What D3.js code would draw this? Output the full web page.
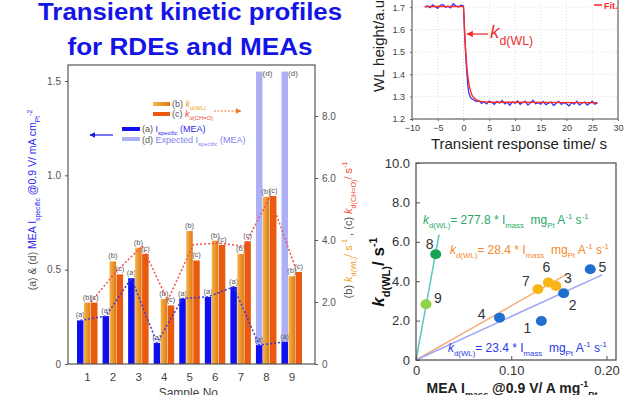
<!DOCTYPE html>
<html>
<head>
<meta charset="utf-8">
<script src="https://cdn.jsdelivr.net/npm/d3@7"></script>
<style>
  body { margin: 0; background: #fff; }
  svg { display: block; }
  text { font-family: "Liberation Sans", Arial, sans-serif; white-space: pre; }
</style>
</head>
<body>
<div id="viz"></div>
<script>
// ---- left chart: bars per sample
var samples = [1, 2, 3, 4, 5, 6, 7, 8, 9];
var iSpecific = [0.231, 0.254, 0.455, 0.112, 0.347, 0.356, 0.409, 0.100, 0.117];
var expectedSamples = [8, 9];
var iExpected = [1.55, 1.55];
var kWL = [1.98, 3.31, 3.75, 2.10, 4.29, 3.98, 3.55, 5.39, 2.83];
var kCHO = [1.98, 2.89, 3.55, 1.89, 3.34, 3.84, 3.96, 5.42, 2.97];
var kTrend = [2.0, 3.0, 3.8, 2.05, 3.85, 3.9, 3.8, 5.4, 3.1];
var leftTicks = [0, 0.5, 1.0, 1.5];
var rightTicks = [0, 2, 4, 6, 8];

// ---- top right: transient response
var tRaw = [-7.5, -7, -6.5, -6, -5.5, -5, -4.5, -4, -3.5, -3, -2.5, -2, -1.5, -1, -0.5, 0,
  0.2, 0.4, 0.6, 0.8, 1.0, 1.3, 1.6,
  2, 2.5, 3, 3.5, 4, 4.5, 5, 5.5, 6, 6.5, 7, 7.5, 8, 8.5, 9, 9.5, 10, 10.5, 11, 11.5,
  12, 12.5, 13, 13.5, 14, 14.5, 15, 15.5, 16, 16.5, 17, 17.5, 18, 18.5, 19, 19.5,
  20, 20.5, 21, 21.5, 22, 22.5, 23, 23.5, 24, 24.5, 25, 25.5, 26];
var wlRaw = [1.700, 1.705, 1.698, 1.710, 1.702, 1.695, 1.708, 1.712, 1.700, 1.704, 1.697, 1.715, 1.706, 1.701, 1.709, 1.705,
  1.60, 1.50, 1.42, 1.36, 1.32, 1.30, 1.29,
  1.285, 1.278, 1.282, 1.270, 1.276, 1.268, 1.280, 1.274, 1.265, 1.279, 1.271, 1.283, 1.268, 1.275, 1.262, 1.277,
  1.270, 1.281, 1.266, 1.274, 1.279, 1.262, 1.272, 1.284, 1.268, 1.273, 1.266, 1.278, 1.264, 1.271, 1.276, 1.260,
  1.270, 1.279, 1.265, 1.273, 1.268, 1.258, 1.274, 1.266, 1.279, 1.263, 1.271, 1.276, 1.262, 1.270, 1.280, 1.266, 1.272];
var tFit = [-7.5, 0, 0.1, 0.2, 0.3, 0.4, 0.5, 0.7, 0.9, 1.2, 1.6, 2.0, 3.0, 5, 26];
var wlFit = [1.703, 1.703, 1.65, 1.59, 1.55, 1.51, 1.48, 1.42, 1.38, 1.34, 1.31, 1.295, 1.28, 1.275, 1.273];
var tTicks = [-10, -5, 0, 5, 10, 15, 20, 25, 30];
var wlTicks = [1.2, 1.3, 1.4, 1.5, 1.6, 1.7];

// ---- bottom right: k vs I_mass
var iMass = [0.1316, 0.155, 0.147, 0.0877, 0.183, 0.139, 0.128, 0.0207, 0.0105];
var kPts = [1.98, 3.39, 3.76, 2.15, 4.61, 3.93, 3.59, 5.37, 2.83];
var ptGroup = ['b', 'b', 'y', 'b', 'b', 'y', 'y', 'g', 'lg'];
var fitEndX = [0.0242, 0.1586, 0.1954];
var fitEndY = [6.36, 4.36, 4.32];
var fitSlope = ['277.8', '28.4', '23.4'];
var massTicksX = [0, 0.1, 0.2];
var massTicksY = [0, 2, 4, 6, 8, 10];

var width = 640, height = 395;
var svg = d3.select('#viz').append('svg')
  .attr('width', width)
  .attr('height', height)

var defs = svg.append('defs');
var grad = defs.append('linearGradient').attr('id', 'gOrange');
grad.append('stop').attr('offset', '0%').attr('stop-color', '#f7b24c');
grad.append('stop').attr('offset', '100%').attr('stop-color', '#de7a12');

// rich text helper: parts with sub / sup / italic
function rich(sel, parts, base) {
  var shift = 0;
  parts.forEach(function(p){
    var target = p.sub ? base * 0.35 : (p.sup ? -base * 0.42 : 0);
    var ts = sel.append('tspan').text(p.t).attr('dy', target - shift);
    shift = target;
    ts.attr('font-size', (p.sub || p.sup) ? base * 0.65 : base);
    if (p.i) ts.attr('font-style', 'italic');
    if (p.fill) ts.attr('fill', p.fill);
    if (p.b) ts.attr('font-weight', 'bold');
  });
  return sel;
}

function arrow(id, color) {
  defs.append('marker').attr('id', id)
    .attr('viewBox', '0 0 10 10').attr('refX', 9).attr('refY', 5)
    .attr('markerWidth', 5).attr('markerHeight', 5).attr('orient', 'auto')
    .append('path').attr('d', 'M0,0L10,5L0,10z').attr('fill', color);
}
arrow('arBlue', '#1a1ae6');
arrow('arOrange', '#f07a30');
arrow('arRed', '#f03030');

// ================= title
var title = svg.append('g').attr('font-weight', 'bold').attr('fill', '#1414e6')
  .attr('text-anchor', 'middle').attr('font-size', 23);
title.append('text').attr('x', 190).attr('y', 20).text('Transient kinetic profiles')
  .attr('textLength', 304).attr('lengthAdjust', 'spacingAndGlyphs');
title.append('text').attr('x', 190).attr('y', 55).text('for RDEs and MEAs')
  .attr('textLength', 245).attr('lengthAdjust', 'spacingAndGlyphs');

// ================= left chart
var L = {left: 68, right: 315, top: 65, bottom: 364};
var xL = d3.scalePoint().domain(samples).range([87.5, 292]);
var xIn = d3.scaleBand().domain(['a', 'b', 'c']).range([-10.5, 10.5]);
var yL = d3.scaleLinear().domain([0, 1.5]).range([L.bottom, 81]);
var yR = d3.scaleLinear().domain([0, 8]).range([L.bottom, 116]);
var bw = xIn.bandwidth() - 0.5;

var gL = svg.append('g');

// expected (d) bars behind
gL.selectAll('.barD').data(expectedSamples).enter().append('rect')
  .attr('x', function(d){ return xL(d) + xIn('a'); })
  .attr('y', function(d, i){ return yL(iExpected[i]); })
  .attr('width', bw)
  .attr('height', function(d, i){ return L.bottom - yL(iExpected[i]); })
  .attr('fill', '#aeb0f7');
gL.selectAll('.lblD').data(expectedSamples).enter().append('text')
  .attr('x', function(d){ return xL(d) + xIn('a') + bw + 5; })
  .attr('y', function(d, i){ return yL(iExpected[i]) + 4; })
  .attr('text-anchor', 'middle').attr('font-size', 8).attr('fill', '#555')
  .text('(d)');

var bars = [
  {key: 'a', vals: iSpecific, scale: yL, fill: '#1010ee'},
  {key: 'b', vals: kWL, scale: yR, fill: 'url(#gOrange)'},
  {key: 'c', vals: kCHO, scale: yR, fill: '#ea5a0e'}
];
bars.forEach(function(s){
  gL.selectAll('.bar' + s.key).data(samples).enter().append('rect')
    .attr('x', function(d){ return xL(d) + xIn(s.key); })
    .attr('y', function(d, i){ return s.scale(s.vals[i]); })
    .attr('width', bw)
    .attr('height', function(d, i){ return L.bottom - s.scale(s.vals[i]); })
    .attr('fill', s.fill);
  gL.selectAll('.lbl' + s.key).data(samples).enter().append('text')
    .attr('x', function(d){ return xL(d) + xIn(s.key) + bw / 2; })
    .attr('y', function(d, i){ return s.scale(s.vals[i]) - 3; })
    .attr('text-anchor', 'middle').attr('font-size', 7.5).attr('fill', '#555')
    .text('(' + s.key + ')');
});

// dashed trend lines
gL.append('path').datum(samples)
  .attr('d', d3.line()
    .x(function(d){ return xL(d) + xIn('a') + bw / 2; })
    .y(function(d, i){ return yL(iSpecific[i]); }))
  .attr('fill', 'none').attr('stroke', '#3a3ad8').attr('stroke-width', 1.5)
  .attr('stroke-dasharray', '2,2');
gL.append('path').datum(samples)
  .attr('d', d3.line()
    .x(function(d){ return xL(d) + xIn('c'); })
    .y(function(d, i){ return yR(kTrend[i]); }))
  .attr('fill', 'none').attr('stroke', '#f05050').attr('stroke-width', 1.5)
  .attr('stroke-dasharray', '2,2');

// frame + axes
gL.append('rect').attr('x', L.left).attr('y', L.top)
  .attr('width', L.right - L.left).attr('height', L.bottom - L.top)
  .attr('fill', 'none').attr('stroke', '#555').attr('stroke-width', 1.2);

var fmt1 = function(d){ return d === 0 ? '0' : d3.format('.1f')(d); };
var axL = gL.append('g').attr('transform', 'translate(' + L.left + ',0)')
  .call(d3.axisLeft(yL).tickValues(leftTicks).tickFormat(fmt1).tickSize(3).tickPadding(4));
var axR = gL.append('g').attr('transform', 'translate(' + L.right + ',0)')
  .call(d3.axisRight(yR).tickValues(rightTicks).tickFormat(fmt1).tickSize(3).tickPadding(4));
[axL, axR].forEach(function(a){
  a.select('.domain').remove();
  a.selectAll('line').attr('stroke', '#555');
  a.selectAll('text').attr('fill', '#555').attr('font-size', 10);
});
gL.selectAll('.xlab').data(samples).enter().append('text')
  .attr('x', function(d){ return xL(d); }).attr('y', 381)
  .attr('text-anchor', 'middle').attr('font-size', 11.5).attr('fill', '#444')
  .text(function(d){ return d; });
gL.append('text').attr('x', 190).attr('y', 397).attr('text-anchor', 'middle')
  .attr('font-size', 12).attr('fill', '#444').text('Sample No.');

// left axis title
var ltl = gL.append('text').attr('transform', 'translate(36,200) rotate(-90)')
  .attr('text-anchor', 'middle').attr('fill', '#2a2af0');
rich(ltl, [
  {t: '(a) & (d) ', fill: '#555'}, {t: 'MEA I'}, {t: 'specific', sub: true},
  {t: ' @0.9 V/ mA cm'}, {t: 'Pt', sub: true}, {t: '-2', sup: true}
], 10.5);

// right axis title
var rtl = gL.append('text').attr('transform', 'translate(352,230) rotate(-90)')
  .attr('text-anchor', 'middle');
rich(rtl, [
  {t: '(b) ', fill: '#555'}, {t: 'k', i: true, fill: '#f0a020'}, {t: 'd(WL)', sub: true, fill: '#f0a020'},
  {t: '/ s', fill: '#f0a020'}, {t: '-1', sup: true, fill: '#f0a020'},
  {t: ' , (c) ', fill: '#555'}, {t: 'k', i: true, fill: '#f04a3a'}, {t: 'd(CH=O)', sub: true, fill: '#f04a3a'},
  {t: '/ s', fill: '#f04a3a'}, {t: '-1', sup: true, fill: '#f04a3a'}
], 11);

// legend
var lg = gL.append('g').attr('font-size', 9);
lg.append('rect').attr('x', 153).attr('y', 102).attr('width', 17).attr('height', 4).attr('fill', 'url(#gOrange)');
lg.append('rect').attr('x', 153).attr('y', 112).attr('width', 17).attr('height', 4).attr('fill', '#ea5a0e');
rich(lg.append('text').attr('x', 172).attr('y', 107), [
  {t: '(b) ', fill: '#555'}, {t: 'k', i: true, fill: '#f0a020'}, {t: 'd(WL)', sub: true, fill: '#f0a020'}], 9);
rich(lg.append('text').attr('x', 172).attr('y', 117), [
  {t: '(c) ', fill: '#555'}, {t: 'k', i: true, fill: '#f04a3a'}, {t: 'd(CH=O)', sub: true, fill: '#f04a3a'}], 9);
lg.append('line').attr('x1', 214).attr('x2', 241).attr('y1', 111).attr('y2', 111)
  .attr('stroke', '#f07a30').attr('stroke-width', 1.2).attr('stroke-dasharray', '2,1.5')
  .attr('marker-end', 'url(#arOrange)');
lg.append('rect').attr('x', 122).attr('y', 127).attr('width', 18).attr('height', 4).attr('fill', '#1010ee');
lg.append('rect').attr('x', 122).attr('y', 137).attr('width', 18).attr('height', 4).attr('fill', '#aeb0f7');
rich(lg.append('text').attr('x', 142).attr('y', 132).attr('fill', '#2a2af0'), [
  {t: '(a) ', fill: '#555'}, {t: 'I'}, {t: 'specific', sub: true}, {t: ' (MEA)'}], 9);
rich(lg.append('text').attr('x', 142).attr('y', 143).attr('fill', '#7f84f2'), [
  {t: '(d) ', fill: '#555'}, {t: 'Expected I'}, {t: 'specific', sub: true}, {t: ' (MEA)'}], 9);
lg.append('line').attr('x1', 113).attr('x2', 90).attr('y1', 135).attr('y2', 135)
  .attr('stroke', '#1a1ae6').attr('stroke-width', 1.2).attr('marker-end', 'url(#arBlue)');

// ================= top right chart
var T = {left: 412, right: 618, top: -4, bottom: 119};
var xT = d3.scaleLinear().domain([-10, 30]).range([T.left, T.right]);
var yT = d3.scaleLinear().domain([1.2, 1.75]).range([T.bottom, T.top]);
var gT = svg.append('g');
gT.selectAll('.gx').data(tTicks).enter().append('line')
  .attr('x1', function(d){ return xT(d); }).attr('x2', function(d){ return xT(d); })
  .attr('y1', T.top).attr('y2', T.bottom)
  .attr('stroke', '#ddd').attr('stroke-dasharray', '1,2');
gT.selectAll('.gy').data(wlTicks).enter().append('line')
  .attr('y1', function(d){ return yT(d); }).attr('y2', function(d){ return yT(d); })
  .attr('x1', T.left).attr('x2', T.right)
  .attr('stroke', '#ddd').attr('stroke-dasharray', '1,2');

gT.append('path').datum(tRaw)
  .attr('d', d3.line().x(function(d){ return xT(d); }).y(function(d, i){ return yT(wlRaw[i]); }))
  .attr('fill', 'none').attr('stroke', '#2f3cf0').attr('stroke-width', 1.3);
gT.append('path').datum(tFit)
  .attr('d', d3.line().curve(d3.curveMonotoneX).x(function(d){ return xT(d); }).y(function(d, i){ return yT(wlFit[i]); }))
  .attr('fill', 'none').attr('stroke', '#ff2a2a').attr('stroke-width', 1.4);

gT.append('rect').attr('x', T.left).attr('y', T.top)
  .attr('width', T.right - T.left).attr('height', T.bottom - T.top)
  .attr('fill', 'none').attr('stroke', '#666').attr('stroke-width', 1.2);
var axTx = gT.append('g').attr('transform', 'translate(0,' + T.bottom + ')')
  .call(d3.axisBottom(xT).tickValues(tTicks).tickSize(2).tickPadding(4));
var axTy = gT.append('g').attr('transform', 'translate(' + T.left + ',0)')
  .call(d3.axisLeft(yT).tickValues(wlTicks).tickFormat(d3.format('.1f')).tickSize(2).tickPadding(5));
[axTx, axTy].forEach(function(a){
  a.select('.domain').remove();
  a.selectAll('line').attr('stroke', '#666');
  a.selectAll('text').attr('fill', '#444').attr('font-size', 9);
});
gT.append('text').attr('x', 519).attr('y', 149).attr('text-anchor', 'middle')
  .attr('font-size', 15).attr('fill', '#222').text('Transient response time/ s');
gT.append('text').attr('transform', 'translate(384,92) rotate(-90)')
  .attr('font-size', 15).attr('fill', '#222').text('WL height/a.u.');
gT.append('line').attr('x1', 488).attr('x2', 467).attr('y1', 34).attr('y2', 34)
  .attr('stroke', '#f03030').attr('stroke-width', 1.3).attr('marker-end', 'url(#arRed)');
rich(gT.append('text').attr('x', 490).attr('y', 38).attr('fill', '#f03030'), [
  {t: 'k', i: true}, {t: 'd(WL)', sub: true}], 19);
gT.append('line').attr('x1', 594).attr('x2', 602).attr('y1', 5).attr('y2', 5)
  .attr('stroke', '#ff2a2a').attr('stroke-width', 1.5);
gT.append('text').attr('x', 604).attr('y', 9).attr('font-size', 9).attr('font-weight', 'bold')
  .attr('fill', '#ff2a2a').text('Fit.');

// ================= bottom right chart
var S = {left: 416, right: 616, top: 163, bottom: 360};
var xS = d3.scaleLinear().domain([0, 0.21]).range([S.left, S.right]);
var yS = d3.scaleLinear().domain([0, 10]).range([S.bottom, S.top]);
var gS = svg.append('g');
var ptColor = {b: '#1f6fd0', y: '#f8b616', g: '#1aa352', lg: '#8ed14a'};
var fitColor = ['#5cc9bd', '#f7b07e', '#9ea4f4'];
var eqColor = ['#2aa864', '#f5882a', '#2a3ae6'];
var lblOff = [[-14, 7], [9, 12], [12, -8], [-18, -4], [12, -2], [-2, -16], [-12, -8], [-6, -10], [12, -6]];

gS.selectAll('.fit').data(fitEndX).enter().append('line')
  .attr('x1', xS(0)).attr('y1', yS(0))
  .attr('x2', function(d){ return xS(d); })
  .attr('y2', function(d, i){ return yS(fitEndY[i]); })
  .attr('stroke', function(d, i){ return fitColor[i]; }).attr('stroke-width', 1.5);

gS.append('rect').attr('x', S.left).attr('y', S.top)
  .attr('width', S.right - S.left).attr('height', S.bottom - S.top)
  .attr('fill', 'none').attr('stroke', '#555').attr('stroke-width', 1.3);

gS.selectAll('.pt').data(iMass).enter().append('ellipse')
  .attr('cx', function(d){ return xS(d); })
  .attr('cy', function(d, i){ return yS(kPts[i]); })
  .attr('rx', 5.5).attr('ry', 5)
  .attr('fill', function(d, i){ return ptColor[ptGroup[i]]; });
gS.selectAll('.ptl').data(iMass).enter().append('text')
  .attr('x', function(d, i){ return xS(d) + lblOff[i][0]; })
  .attr('y', function(d, i){ return yS(kPts[i]) + lblOff[i][1] + 5; })
  .attr('text-anchor', 'middle').attr('font-size', 14).attr('fill', '#333')
  .text(function(d, i){ return samples[i]; });

var axSx = gS.append('g').attr('transform', 'translate(0,' + S.bottom + ')')
  .call(d3.axisBottom(xS).tickValues(massTicksX)
    .tickFormat(function(d){ return d === 0 ? '0' : d3.format('.2f')(d); }).tickSize(-4).tickPadding(6));
var axSy = gS.append('g').attr('transform', 'translate(' + S.left + ',0)')
  .call(d3.axisLeft(yS).tickValues(massTicksY).tickFormat(fmt1).tickSize(-4).tickPadding(6));
[axSx, axSy].forEach(function(a){
  a.select('.domain').remove();
  a.selectAll('line').attr('stroke', '#555');
  a.selectAll('text').attr('fill', '#333').attr('font-size', 13);
});

// equations
var eqPos = [[423, 224], [450, 254], [448, 352]];
fitSlope.forEach(function(s, i){
  rich(gS.append('text').attr('x', eqPos[i][0]).attr('y', eqPos[i][1]).attr('fill', eqColor[i]), [
    {t: 'k', i: true}, {t: 'd(WL)', sub: true}, {t: '= ' + s + ' * I'}, {t: 'mass', sub: true},
    {t: '  mg'}, {t: 'Pt', sub: true}, {t: ' A'}, {t: '-1', sup: true}, {t: ' s'}, {t: '-1', sup: true}
  ], 12);
});

rich(gS.append('text').attr('transform', 'translate(384,272) rotate(-90)')
  .attr('text-anchor', 'middle').attr('font-weight', 'bold').attr('fill', '#111'), [
  {t: 'k', i: true}, {t: 'd(WL)', sub: true}, {t: '/ s'}, {t: '-1', sup: true}], 17);
rich(gS.append('text').attr('x', 512).attr('y', 393)
  .attr('text-anchor', 'middle').attr('font-weight', 'bold').attr('fill', '#222'), [
  {t: 'MEA I'}, {t: 'mass', sub: true}, {t: ' @0.9 V/ A mg'}, {t: '-1', sup: true}, {t: 'Pt', sub: true}], 14);
</script>
</body>
</html>
